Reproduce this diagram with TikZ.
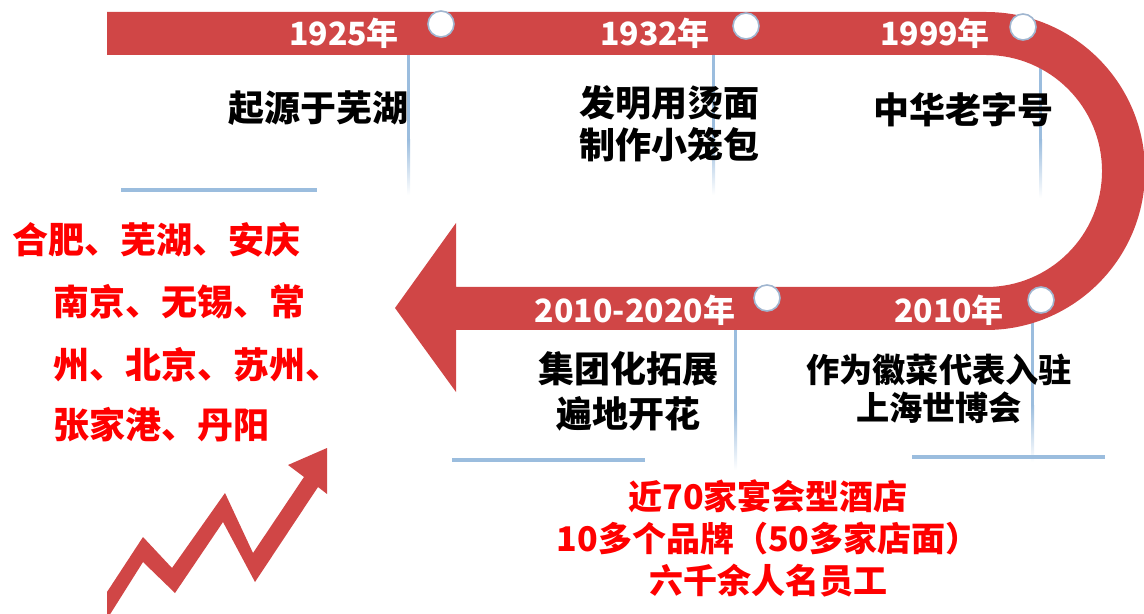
\documentclass[tikz,border=0pt]{standalone}
\usepackage{fontspec}
\setmainfont{Noto Sans CJK SC}
\usetikzlibrary{positioning}

\definecolor{bandred}{RGB}{208,70,70}
\definecolor{lineblue}{RGB}{155,189,222}
\definecolor{dotblue}{RGB}{160,182,208}

\begin{document}
\begin{tikzpicture}
  [x=0.5pt,y=-0.5pt,
   yr/.style={text=white,
              font=\bfseries\fontsize{16}{20}\selectfont},
   ev/.style={align=center,
              font=\bfseries\fontsize{18}{21}\selectfont},
   city/.style={anchor=west,
                inner sep=0pt,
                text=red,
                font=\bfseries\fontsize{18}{22}\selectfont},
   dot/.style={circle,
               draw=dotblue,
               fill=white,
               line width=0.8pt,
               minimum size=13pt,
               inner sep=0pt},
   vline/.style={top color=lineblue,
                 bottom color=white},
   hline/.style={draw=lineblue,
                 line width=2pt}]
  \useasboundingbox (0,0) rectangle (1144,614);
  \clip (0,0) rectangle (1144,614);

  % blue guide lines
  \fill[lineblue] (407,55) rectangle (410,140);
  \shade[vline] (407,140) rectangle (410,195);
  \fill[lineblue] (712,55) rectangle (715,140);
  \shade[vline] (712,140) rectangle (715,195);
  \fill[lineblue] (1039,55) rectangle (1042,140);
  \shade[vline] (1039,140) rectangle (1042,198);
  \fill[lineblue] (734,300) rectangle (737,410);
  \shade[vline] (734,410) rectangle (737,470);
  \fill[lineblue] (1031,300) rectangle (1034,405);
  \shade[vline] (1031,405) rectangle (1034,462);
  \draw[hline] (121,190) -- (317,190);
  \draw[hline] (452,460) -- (645,460);
  \draw[hline] (912,457) -- (1105,457);

  % red U-turn band
  \fill[bandred] (107,12) -- (986,12) arc[start angle=-90,end angle=90,radius=159]
    -- (456,330) -- (456,392) -- (395,308) -- (456,223) -- (456,287) -- (986,287)
    arc[start angle=90,end angle=-90,radius=116] -- (107,55) -- cycle;

  % growth arrow
  \fill[bandred] (107,592) -- (143,537) -- (172,568) -- (225,493) -- (253,553)
    -- (304,477) -- (288,465) -- (327,448) -- (327,494) -- (318,487)
    -- (255,582) -- (223,522) -- (175,593) -- (143,562) -- (109,616) -- (107,616) -- cycle;

  % time points
  \node[dot] (d1925) at (441,24) {};
  \node[dot] (d1932) at (746,26) {};
  \node[dot] (d1999) at (1023,27) {};
  \node[dot] (d2020) at (767,298) {};
  \node[dot] (d2010) at (1041,300) {};

  \node[yr] (y1925) at (344,33) {1925年};
  \node[yr] (y1932) at (655,33) {1932年};
  \node[yr] (y1999) at (935,33) {1999年};
  \node[yr] (y2020) at (635,310) {2010-2020年};
  \node[yr] (y2010) at (949,310) {2010年};

  % events
  \node[ev] (e1925) at (318,108) {起源于芜湖};
  \node[ev] (e1932) at (669,124) {发明用烫面\\制作小笼包};
  \node[ev] (e1999) at (963,110) {中华老字号};
  \node[ev,font=\bfseries\fontsize{18}{22.5}\selectfont] (e2020) at (628,391) {集团化拓展\\遍地开花};
  \node[ev,font=\bfseries\fontsize{16.6}{19}\selectfont] (e2010) at (939,389) {作为徽菜代表入驻\\上海世博会};

  % cities
  \node[city] (c1) at (12,240) {合肥、芜湖、安庆};
  \node[city] (c2) at (53,302) {南京、无锡、常};
  \node[city] (c3) at (53,365) {州、北京、苏州、};
  \node[city] (c4) at (53,425) {张家港、丹阳};

  \node[ev,text=red,font=\bfseries\fontsize{17}{21}\selectfont] (stats) at (768,538)
    {近70家宴会型酒店\\10多个品牌（50多家店面）\\六千余人名员工};
\end{tikzpicture}
\end{document}
